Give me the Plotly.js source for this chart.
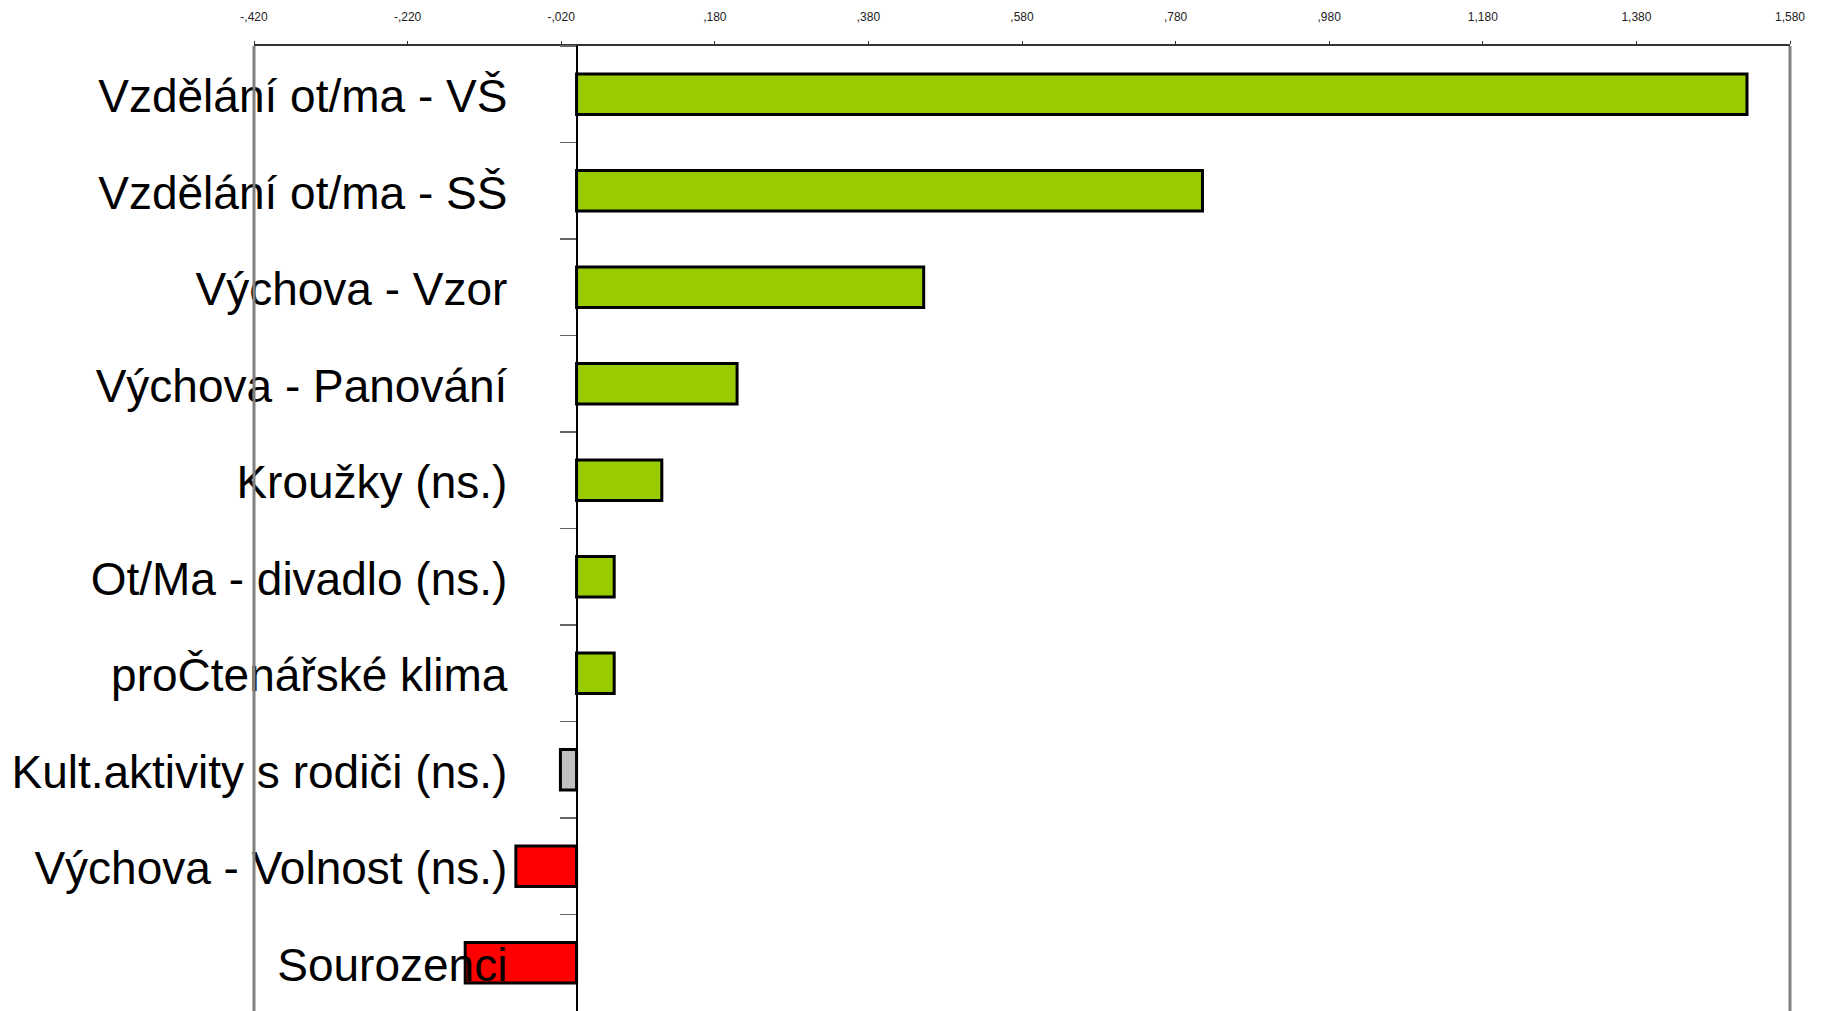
<!DOCTYPE html>
<html>
<head>
<meta charset="utf-8">
<script src="https://cdn.plot.ly/plotly-3.0.1.min.js"></script>
<style>html,body{margin:0;padding:0;background:#fff;}#chart{width:1821px;height:1011px;}</style>
</head>
<body>
<div id="chart"></div>
<script>
const categories = [
  "Vzdělání ot/ma - VŠ",
  "Vzdělání ot/ma - SŠ",
  "Výchova - Vzor",
  "Výchova - Panování",
  "Kroužky (ns.)",
  "Ot/Ma - divadlo (ns.)",
  "proČtenářské klima",
  "Kult.aktivity s rodiči (ns.)",
  "Výchova - Volnost (ns.)",
  "Sourozenci"
];
const values = [1.524, 0.815, 0.452, 0.209, 0.111, 0.049, 0.049, -0.021, -0.079, -0.145];
const barColors = ["#99CC00","#99CC00","#99CC00","#99CC00","#99CC00","#99CC00","#99CC00","#C0C0C0","#FF0000","#FF0000"];
const tickVals = [-0.42,-0.22,-0.02,0.18,0.38,0.58,0.78,0.98,1.18,1.38,1.58];
const tickText = ["-,420","-,220","-,020",",180",",380",",580",",780",",980","1,180","1,380","1,580"];

const trace = {
  type: "bar",
  orientation: "h",
  x: values,
  y: categories,
  width: 0.42,
  marker: { color: barColors, line: { color: "#000000", width: 3 } },
  hoverinfo: "none"
};

const layout = {
  width: 1821,
  height: 1011,
  margin: { l: 254, r: 31, t: 46, b: 0, pad: 0 },
  paper_bgcolor: "#ffffff",
  plot_bgcolor: "#ffffff",
  showlegend: false,
  font: { family: "Liberation Sans, Arial, sans-serif", color: "#000" },
  xaxis: {
    side: "top",
    range: [-0.42, 1.58],
    tickvals: tickVals,
    ticktext: tickText,
    tickfont: { size: 12, color: "#222", family: "Liberation Sans, Arial, sans-serif" },
    ticks: "outside",
    ticklen: 3,
    tickwidth: 1,
    tickcolor: "#333",
    ticklabelstandoff: 15,
    showline: true,
    linecolor: "#333",
    linewidth: 2,
    showgrid: false,
    zeroline: false,
    fixedrange: true
  },
  yaxis: {
    type: "category",
    autorange: "reversed",
    anchor: "free",
    position: 0.21,
    showline: true,
    linecolor: "#000",
    linewidth: 2,
    ticks: "outside",
    tickson: "boundaries",
    ticklen: 16,
    tickwidth: 1.5,
    tickcolor: "#666",
    ticklabelstandoff: 59,
    ticklabelshift: -2,
    tickfont: { size: 46, color: "#000", family: "Liberation Sans, Arial, sans-serif" },
    showgrid: false,
    zeroline: false,
    fixedrange: true
  },
  shapes: [
    { type: "line", xref: "paper", yref: "paper", x0: 0, x1: 0, y0: 0, y1: 1, line: { color: "#808080", width: 3 } },
    { type: "line", xref: "paper", yref: "paper", x0: 1, x1: 1, y0: 0, y1: 1, line: { color: "#808080", width: 3 } }
  ],
  bargap: 0.6
};

Plotly.newPlot("chart", [trace], layout, { displayModeBar: false, staticPlot: true });
</script>
</body>
</html>
